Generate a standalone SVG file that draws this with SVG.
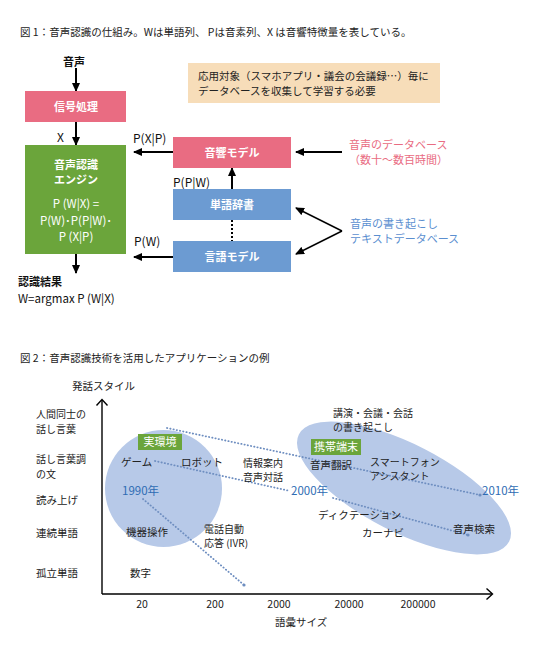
<svg xmlns="http://www.w3.org/2000/svg" width="539" height="656" viewBox="0 0 539 656">
<defs>
<marker id="ah" markerWidth="9" markerHeight="8" refX="8" refY="4" orient="auto" markerUnits="userSpaceOnUse"><path d="M0,0 L9,4 L0,8 Z" fill="#000"/></marker>
</defs>
<style>
text{font-family:"Noto Sans CJK JP","Noto Sans",sans-serif;}
.t{font-size:10.5px;fill:#222}
.s{font-size:10px;fill:#222}
.w{fill:#fff;font-weight:bold;font-size:11px;text-anchor:middle}
.f{fill:#fff;font-size:11.5px;text-anchor:middle}
.b{font-size:11px;fill:#111;font-weight:bold}
.p{font-size:12px;fill:#111}
.conn{stroke:#000;stroke-width:2;fill:none}
.thin{stroke:#000;stroke-width:1.5;fill:none}
.ax{stroke:#000;stroke-width:1.4;fill:none}
.dot{stroke:#6E8EC0;stroke-width:1.8;stroke-dasharray:0.3 3;stroke-linecap:round;fill:none}
.yr{fill:#2E6CB3;font-size:11.5px}
.pink{fill:#E96C82}
.green{fill:#6BA53B}
.blue{fill:#6C9BD2}
.bub{fill:#B7C9E8}
</style>
<rect width="539" height="656" fill="#fff"/>

<!-- Figure 1 -->
<text class="t" x="20" y="36">図 1：音声認識の仕組み。Wは単語列、 Pは音素列、X は音響特徴量を表している。</text>

<g id="connectors">
<line class="conn" x1="76" y1="68" x2="76" y2="91" marker-end="url(#ah)"/>
<line class="conn" x1="76" y1="122" x2="76" y2="145" marker-end="url(#ah)"/>
<line class="conn" x1="76" y1="254" x2="76" y2="273" marker-end="url(#ah)"/>
<line class="conn" x1="173" y1="152" x2="134" y2="152" marker-end="url(#ah)"/>
<line class="conn" x1="173" y1="257" x2="134" y2="257" marker-end="url(#ah)"/>
<line class="conn" x1="232" y1="189" x2="232" y2="168" marker-end="url(#ah)"/>
<line x1="232" y1="220" x2="232" y2="241" stroke="#000" stroke-width="2" stroke-dasharray="2 2"/>
<line class="conn" x1="342" y1="152" x2="296" y2="152" marker-end="url(#ah)"/>
<line class="thin" x1="342" y1="231" x2="296" y2="208" marker-end="url(#ah)"/>
<line class="thin" x1="342" y1="231" x2="296" y2="254" marker-end="url(#ah)"/>
</g>

<g id="input"><text class="b" x="63" y="66">音声</text></g>
<g id="signal"><rect class="pink" x="25" y="91" width="101" height="31"/><text class="w" x="76" y="111">信号処理</text></g>
<text class="p" x="57" y="142">X</text>
<g id="engine"><rect class="green" x="25" y="145" width="101" height="109"/>
<text class="w" x="76" y="169">音声認識</text>
<text class="w" x="76" y="184">エンジン</text>
<text class="f" x="76" y="208">P (W|X)  =</text>
<text class="f" x="76" y="224.5">P(W)･P(P|W)･</text>
<text class="f" x="76" y="241">P (X|P)</text>
</g>
<g id="result"><text class="b" x="18" y="286">認識結果</text><text class="p" x="18" y="303" style="font-size:11.5px">W=argmax P (W|X)</text></g>
<g id="note"><rect x="188" y="63" width="252" height="40" fill="#F7DDB9"/>
<text class="t" x="198" y="80">応用対象（スマホアプリ・議会の会議録…）毎に</text>
<text class="t" x="198" y="95">データベースを収集して学習する必要</text></g>
<g id="acoustic"><rect class="pink" x="173" y="137" width="118" height="31"/><text class="w" x="232" y="157">音響モデル</text></g>
<text class="p" x="133" y="143">P(X|P)</text>
<text class="p" x="173" y="187">P(P|W)</text>
<g id="dict"><rect class="blue" x="173" y="189" width="118" height="31"/><text class="w" x="232" y="209">単語辞書</text></g>
<g id="lm"><rect class="blue" x="173" y="241" width="118" height="31"/><text class="w" x="232" y="261">言語モデル</text></g>
<text class="p" x="134" y="246">P(W)</text>
<g id="sounddb"><text x="349" y="149" style="font-size:11px;fill:#E96C82">音声のデータベース</text><text x="349" y="164" style="font-size:11px;fill:#E96C82">（数十～数百時間）</text></g>
<g id="textdb"><text x="350" y="228" style="font-size:11px;fill:#5B8FD0">音声の書き起こし</text><text x="350" y="243" style="font-size:11px;fill:#5B8FD0">テキストデータベース</text></g>

<!-- Figure 2 -->
<text class="t" x="20" y="362">図 2：音声認識技術を活用したアプリケーションの例</text>

<g id="bubbles">
<circle class="bub" cx="163.5" cy="488.5" r="58.5"/>
<ellipse class="bub" cx="404" cy="488" rx="118" ry="44" transform="rotate(27 404 488)"/>
</g>

<g id="axes">
<line class="ax" x1="102" y1="594" x2="102" y2="400"/>
<path class="ax" d="M96.5,405.5 L102,399.5 L107.5,405.5"/>
<line class="ax" x1="102" y1="594" x2="492" y2="594"/>
<path class="ax" d="M486.5,588.5 L492.5,594 L486.5,599.5"/>
<text class="t" x="72" y="390">発話スタイル</text>
<text class="t" x="275" y="626">語彙サイズ</text>
<text class="s" x="36" y="418">人間同士の</text>
<text class="s" x="36" y="432.5">話し言葉</text>
<text class="s" x="36" y="463">話し言葉調</text>
<text class="s" x="36" y="477.5">の文</text>
<text class="t" x="36" y="504">読み上げ</text>
<text class="t" x="36" y="537">連続単語</text>
<text class="t" x="36" y="577">孤立単語</text>
<g style="text-anchor:middle">
<text class="t" x="142" y="608">20</text>
<text class="t" x="215" y="608">200</text>
<text class="t" x="279" y="608">2000</text>
<text class="t" x="349" y="608">20000</text>
<text class="t" x="418" y="608">200000</text>
</g>
</g>

<g id="trends">
<line class="dot" x1="167" y1="428" x2="480" y2="495"/>
<line class="dot" x1="155" y1="461" x2="290" y2="491"/>
<line class="dot" x1="333" y1="498" x2="468" y2="535"/>
<line class="dot" x1="143" y1="499" x2="244" y2="585"/>
<circle cx="244" cy="585" r="1.6" fill="#6E8EC0"/>
<circle cx="468" cy="535" r="1.6" fill="#6E8EC0"/>
<circle cx="480" cy="495" r="1.6" fill="#6E8EC0"/>
</g>

<g id="tag-real"><rect class="green" x="138" y="434" width="44" height="16"/><text class="w" x="160" y="446" style="font-weight:normal">実環境</text></g>
<g id="tag-mobile"><rect class="green" x="311" y="439" width="50" height="16"/><text class="w" x="336" y="451" style="font-weight:normal">携帯端末</text></g>

<g id="apps">
<text class="t" x="121" y="466">ゲーム</text>
<text class="t" x="181" y="466">ロボット</text>
<text class="s" x="243" y="466.5">情報案内</text>
<text class="s" x="243" y="481">音声対話</text>
<text class="yr" x="122" y="495">1990年</text>
<text class="t" x="126" y="536">機器操作</text>
<text class="s" x="204" y="532.5">電話自動</text>
<text class="s" x="204" y="547">応答 (IVR)</text>
<text class="t" x="130" y="577">数字</text>
<text class="s" x="333" y="416.5">講演・会議・会話</text>
<text class="s" x="333" y="431">の書き起こし</text>
<text class="t" x="310" y="469">音声翻訳</text>
<text class="s" x="370" y="465.5">スマートフォン</text>
<text class="s" x="370" y="480">アシスタント</text>
<text class="yr" x="291" y="495">2000年</text>
<text class="yr" x="482" y="495">2010年</text>
<text class="t" x="318" y="519">ディクテーション</text>
<text class="t" x="362" y="537">カーナビ</text>
<text class="t" x="453" y="533">音声検索</text>
</g>
</svg>
